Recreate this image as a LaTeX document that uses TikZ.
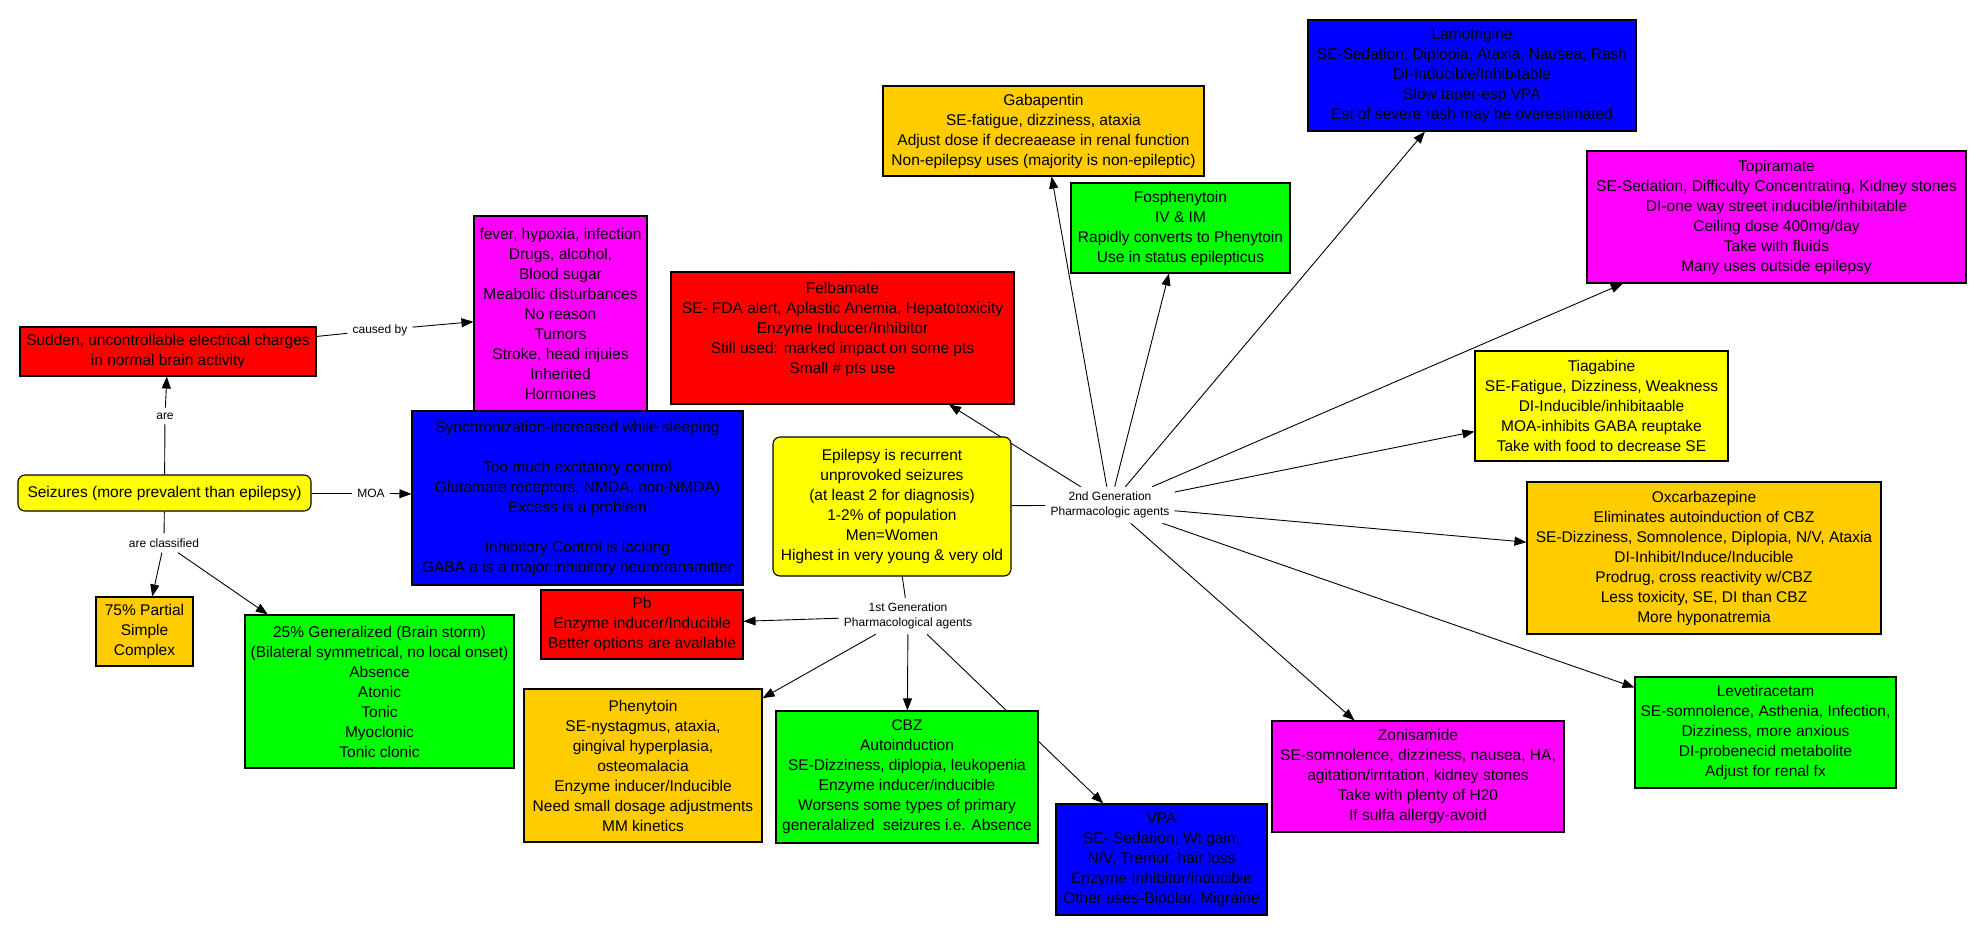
\documentclass[tikz,border=0pt]{standalone}
\usepackage{fontspec}
\setmainfont{Liberation Sans}
\usetikzlibrary{arrows.meta}
\pgfdeclarelayer{back}
\pgfdeclarelayer{bg}
\pgfsetlayers{back,bg,main}
\definecolor{cred}{HTML}{FF0000}
\definecolor{cmag}{HTML}{FF00FF}
\definecolor{cblue}{HTML}{0000FF}
\definecolor{cyel}{HTML}{FFFF00}
\definecolor{cgreen}{HTML}{00FF00}
\definecolor{corange}{HTML}{FFCC00}
\begin{document}
\begin{tikzpicture}[x=1pt,y=-1pt,
  box/.style={draw=black, line width=1.1pt, align=center, inner sep=2pt,
    font=\fontsize{15.5pt}{20pt}\selectfont, anchor=center},
  rbox/.style={box, rounded corners=7pt},
  lbl/.style={font=\fontsize{12pt}{15pt}\selectfont, align=center, inner sep=5pt},
  conn/.style={line width=0.9pt, draw=black},
  arr/.style={conn, -{Triangle[length=12pt,width=9pt]}}
]
\begin{pgfonlayer}{back}
\fill[white] (0,0) rectangle (1986,935);
\end{pgfonlayer}
\useasboundingbox (0,0) rectangle (1986,935);

% left part
\node[box, fill=cred, minimum width=296pt, minimum height=49pt] (sudden) at (168,351.5)
  {Sudden, uncontrollable electrical charges\\in normal brain activity};
\node[box, fill=cmag, minimum width=173pt, minimum height=196pt] (causes) at (560.5,314)
  {fever, hypoxia, infection\\Drugs, alcohol,\\Blood sugar\\Meabolic disturbances\\No reason\\Tumors\\Stroke, head injuies\\Inherited\\Hormones};
\node[rbox, fill=cyel, minimum width=293pt, minimum height=36pt] (seizures) at (164.5,493)
  {Seizures (more prevalent than epilepsy)};
\node[box, fill=cblue, minimum width=331pt, minimum height=174pt] (moa) at (577.5,498)
  {Synchronization-increased while sleeping\\\mbox{}\\Too much excitatory control\\Glutamate receptors, NMDA, non-NMDA)\\Excess is a problem\\\mbox{}\\Inhibitory Control is lacking\\GABA a is a major inhibitory neurotransmitter};
\node[box, fill=corange, minimum width=97pt, minimum height=69pt] (partial) at (144.5,631.5)
  {75\% Partial\\Simple\\Complex};
\node[box, fill=cgreen, minimum width=269pt, minimum height=153pt] (gen) at (379.5,691.5)
  {25\% Generalized (Brain storm)\\(Bilateral symmetrical, no local onset)\\Absence\\Atonic\\Tonic\\Myoclonic\\Tonic clonic};

% centre
\node[box, fill=cred, minimum width=343pt, minimum height=132pt] (felb) at (842.5,338)
  {Felbamate\\SE- FDA alert, Aplastic Anemia, Hepatotoxicity\\Enzyme Inducer/Inhibitor\\Still used: marked impact on some pts\\Small \# pts use\\\mbox{}};
\node[rbox, fill=cyel, minimum width=238pt, minimum height=139pt] (epi) at (892,506.5)
  {Epilepsy is recurrent\\unprovoked seizures\\(at least 2 for diagnosis)\\1-2\% of population\\Men=Women\\Highest in very young \& very old};
\node[box, fill=cred, minimum width=202pt, minimum height=69pt] (pb) at (642,624.5)
  {Pb\\Enzyme inducer/Inducible\\Better options are available};
\node[box, fill=corange, minimum width=238pt, minimum height=153pt] (phen) at (643,765.5)
  {Phenytoin\\SE-nystagmus, ataxia,\\gingival hyperplasia,\\osteomalacia\\Enzyme inducer/Inducible\\Need small dosage adjustments\\MM kinetics};
\node[box, fill=cgreen, minimum width=262pt, minimum height=132pt] (cbz) at (907,777)
  {CBZ\\Autoinduction\\SE-Dizziness, diplopia, leukopenia\\Enzyme inducer/inducible\\Worsens some types of primary\\generalalized~ seizures i.e. Absence};
\node[box, fill=cblue, minimum width=211pt, minimum height=111pt] (vpa) at (1161.5,859.5)
  {VPA\\SE- Sedation, Wt gain,\\N/V, Tremor, hair loss\\Enzyme Inhibitor/inducible\\Other uses-Bipolar, Migraine};

% 2nd generation agents
\node[box, fill=corange, minimum width=321pt, minimum height=90pt] (gaba) at (1043.5,131)
  {Gabapentin\\SE-fatigue, dizziness, ataxia\\Adjust dose if decreaease in renal function\\Non-epilepsy uses (majority is non-epileptic)};
\node[box, fill=cgreen, minimum width=219pt, minimum height=90pt] (fos) at (1180.5,228)
  {Fosphenytoin\\IV \& IM\\Rapidly converts to Phenytoin\\Use in status epilepticus};
\node[box, fill=cblue, minimum width=328pt, minimum height=111pt] (lamo) at (1472,75.5)
  {Lamotrigine\\SE-Sedation, Diplopia, Ataxia, Nausea, Rash\\DI-Inducible/Inhibitable\\Slow taper-esp VPA\\Est of severe rash may be overestimated};
\node[box, fill=cmag, minimum width=379pt, minimum height=132pt] (topi) at (1776.5,217)
  {Topiramate\\SE-Sedation, Difficulty Concentrating, Kidney stones\\DI-one way street inducible/inhibitable\\Ceiling dose 400mg/day\\Take with fluids\\Many uses outside epilepsy};
\node[box, fill=cyel, minimum width=253pt, minimum height=110pt] (tiag) at (1601.5,406)
  {Tiagabine\\SE-Fatigue, Dizziness, Weakness\\DI-Inducible/inhibitaable\\MOA-inhibits GABA reuptake\\Take with food to decrease SE};
\node[box, fill=corange, minimum width=354pt, minimum height=152pt] (oxc) at (1704,558)
  {Oxcarbazepine\\Eliminates autoinduction of CBZ\\SE-Dizziness, Somnolence, Diplopia, N/V, Ataxia\\DI-Inhibit/Induce/Inducible\\Prodrug, cross reactivity w/CBZ\\Less toxicity, SE, DI than CBZ\\More hyponatremia};
\node[box, fill=cgreen, minimum width=261pt, minimum height=111pt] (leve) at (1765.5,732.5)
  {Levetiracetam\\SE-somnolence, Asthenia, Infection,\\Dizziness, more anxious\\DI-probenecid metabolite\\Adjust for renal fx};
\node[box, fill=cmag, minimum width=292pt, minimum height=111pt] (zoni) at (1418,776.5)
  {Zonisamide\\SE-somnolence, dizziness, nausea, HA,\\agitation/irritation, kidney stones\\Take with plenty of H20\\If sulfa allergy-avoid};

% linking phrases
\node[lbl] (lcaused) at (380,330) {caused by};
\node[lbl] (lare) at (165,416) {are};
\node[lbl] (lmoa) at (371,493) {MOA};
\node[lbl] (lclass) at (164,543) {are classified};
\node[lbl] (lsecond) at (1110,505) {2nd Generation\\Pharmacologic agents};
\node[lbl] (lfirst) at (908,616) {1st Generation\\Pharmacological agents};

\begin{pgfonlayer}{bg}
\draw[conn] (seizures) -- (lare);
\draw[arr] (lare) -- (sudden);
\draw[conn] (sudden) -- (lcaused);
\draw[arr] (lcaused) -- (causes);
\draw[conn] (seizures) -- (lmoa);
\draw[arr] (lmoa) -- (moa);
\draw[conn] (seizures) -- (lclass);
\draw[arr] (lclass) -- (partial);
\draw[arr] (lclass) -- (gen);
\draw[conn] (epi) -- (lsecond);
\draw[conn] (epi) -- (lfirst);
\draw[arr] (lfirst) -- (pb);
\draw[arr] (lfirst) -- (phen);
\draw[arr] (lfirst) -- (cbz);
\draw[arr] (lfirst) -- (vpa);
\draw[arr] (lsecond) -- (felb);
\draw[arr] (lsecond) -- (gaba);
\draw[arr] (lsecond) -- (fos);
\draw[arr] (lsecond) -- (lamo);
\draw[arr] (lsecond) -- (topi);
\draw[arr] (lsecond) -- (tiag);
\draw[arr] (lsecond) -- (oxc);
\draw[arr] (lsecond) -- (leve);
\draw[arr] (lsecond) -- (zoni);
\end{pgfonlayer}
\end{tikzpicture}
\end{document}
